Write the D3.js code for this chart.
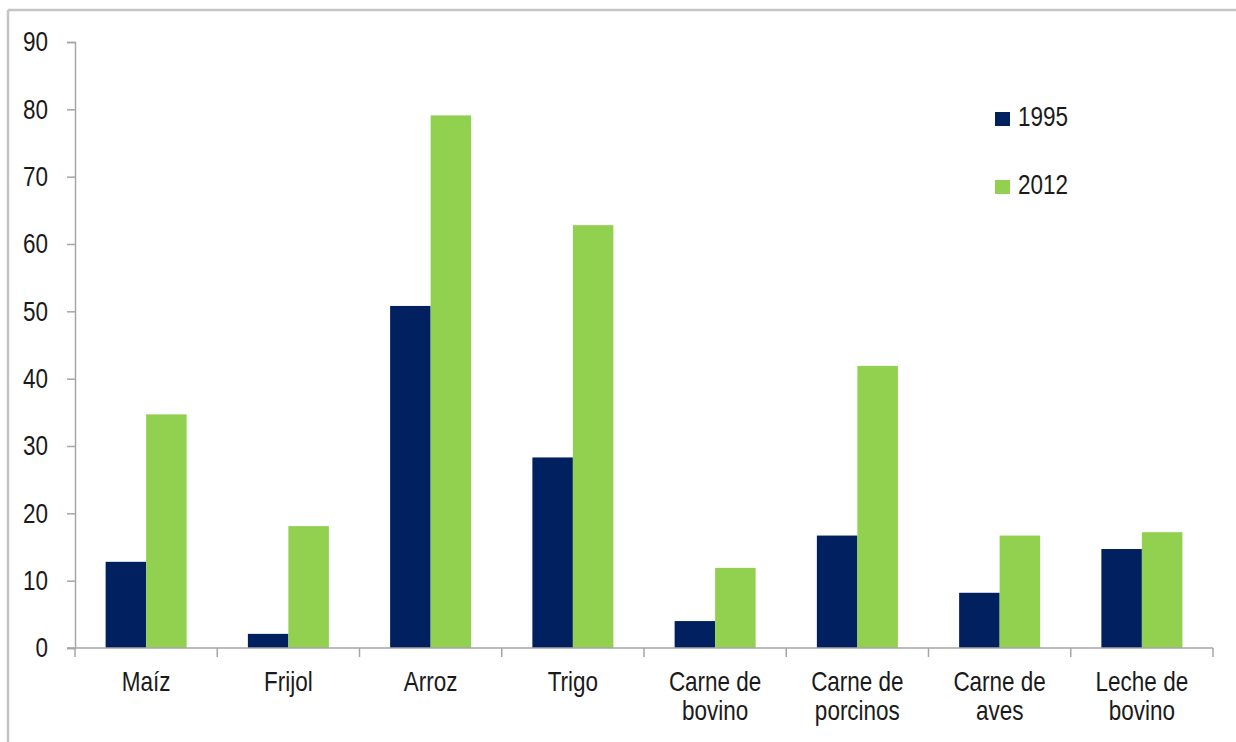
<!DOCTYPE html>
<html>
<head>
<meta charset="utf-8">
<script src="https://cdn.jsdelivr.net/npm/d3@7"></script>
<style>
  html, body { margin: 0; padding: 0; background: #fff; }
  svg { display: block; }
  text { font-family: "Liberation Sans", Arial, sans-serif; fill: #1a1a1a; }
</style>
</head>
<body>
<svg id="chart" width="1236" height="742"></svg>
<script>
const categories = [
  ["Maíz"], ["Frijol"], ["Arroz"], ["Trigo"],
  ["Carne de", "bovino"], ["Carne de", "porcinos"], ["Carne de", "aves"], ["Leche de", "bovino"]
];
const seriesNames = ["1995", "2012"];
const values1995 = [12.8, 2.1, 50.8, 28.3, 4.0, 16.7, 8.2, 14.7];
const values2012 = [34.7, 18.1, 79.1, 62.8, 11.9, 41.9, 16.7, 17.2];
const yTicks = [0, 10, 20, 30, 40, 50, 60, 70, 80, 90];
const colors = ["#00205f", "#92d050"];

const svg = d3.select("#chart");
const FS = 22.5, SY = 1.24;

// frame lines
svg.append("line").attr("x1", 8).attr("x2", 1236).attr("y1", 10).attr("y2", 10)
  .attr("stroke", "#c4c4c4").attr("stroke-width", 2.5);
svg.append("line").attr("x1", 8).attr("x2", 8).attr("y1", 10).attr("y2", 742)
  .attr("stroke", "#c4c4c4").attr("stroke-width", 2.5);

const catKeys = categories.map(c => c.join(" "));
const x0 = d3.scaleBand().domain(catKeys).range([75, 1213]).padding(0);
const x1 = d3.scaleBand().domain(seriesNames).range([0, x0.bandwidth()])
  .paddingInner(0).paddingOuter(0.756);
const y = d3.scaleLinear().domain([0, 90]).range([648, 42]);

// bars
const series = [values1995, values2012];
series.forEach((vals, si) => {
  svg.append("g").selectAll("rect").data(vals).join("rect")
    .attr("x", (d, i) => x0(catKeys[i]) + x1(seriesNames[si]))
    .attr("width", x1.bandwidth())
    .attr("y", d => y(d))
    .attr("height", d => y(0) - y(d))
    .attr("fill", colors[si]);
});

// y axis
const yAxis = svg.append("g").attr("transform", "translate(75,0)")
  .call(d3.axisLeft(y).tickValues(yTicks).tickSize(8).tickPadding(19));
yAxis.select(".domain").attr("stroke", "#a6a6a6").attr("stroke-width", 1.5);
yAxis.selectAll(".tick line").attr("stroke", "#a6a6a6").attr("stroke-width", 1.5);
yAxis.selectAll(".tick text")
  .attr("font-size", FS).attr("font-family", "Liberation Sans, Arial, sans-serif")
  .attr("fill", "#1a1a1a")
  .attr("transform", `scale(1,${SY})`);

// x axis
const xAxisG = svg.append("g").attr("transform", "translate(0,648)");
xAxisG.append("line").attr("x1", 67).attr("x2", 1213).attr("y1", 0).attr("y2", 0)
  .attr("stroke", "#a6a6a6").attr("stroke-width", 1.5);
const tickPos = catKeys.map(k => x0(k)).concat([x0.range()[1]]);
xAxisG.selectAll("line.xt").data(tickPos).join("line").attr("class", "xt")
  .attr("x1", d => d).attr("x2", d => d).attr("y1", 0).attr("y2", 9)
  .attr("stroke", "#a6a6a6").attr("stroke-width", 1.5);

// category labels
const lab = svg.append("g").selectAll("text").data(categories).join("text")
  .attr("transform", (d, i) => `translate(${x0(catKeys[i]) + x0.bandwidth() / 2},691) scale(1,${SY})`)
  .attr("text-anchor", "middle")
  .attr("font-size", FS);
lab.each(function(d) {
  const t = d3.select(this);
  d.forEach((line, li) => {
    t.append("tspan").attr("x", 0).attr("y", li * 29 / SY).text(line);
  });
});

// legend
const legendY = [126, 194];
seriesNames.forEach((name, i) => {
  svg.append("rect").attr("x", 995).attr("y", legendY[i] - 14).attr("width", 15).attr("height", 14)
    .attr("fill", colors[i]);
  svg.append("text").attr("transform", `translate(1018,${legendY[i]}) scale(1,${SY})`)
    .attr("font-size", FS).text(name);
});
</script>
</body>
</html>
